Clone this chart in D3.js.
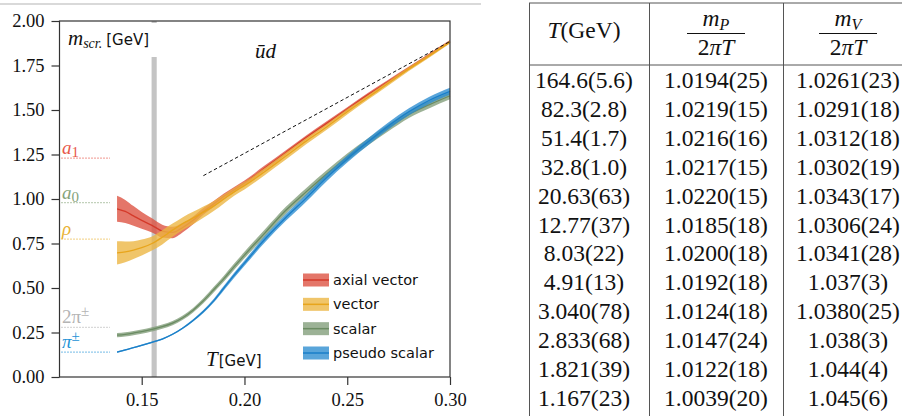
<!DOCTYPE html>
<html><head><meta charset="utf-8">
<script src="https://cdn.jsdelivr.net/npm/d3@7"></script>
<style>
html,body{margin:0;padding:0;background:#fff;}
svg{display:block;}
</style></head>
<body>
<svg id="c" width="902" height="416"></svg>
<script>
// ---------- data ----------
const temps =     [0.138,0.142,0.146,0.150,0.155,0.160,0.165,0.170,0.175,0.180,0.185,0.190,0.195,0.200,0.210,0.220,0.230,0.240,0.250,0.260,0.270,0.280,0.290,0.300];
const axialMid =  [0.945,0.930,0.905,0.880,0.852,0.820,0.812,0.840,0.880,0.930,0.972,1.015,1.052,1.090,1.175,1.260,1.345,1.425,1.505,1.585,1.660,1.735,1.810,1.885];
const axialErr =  [0.073,0.065,0.055,0.047,0.040,0.036,0.032,0.027,0.022,0.019,0.017,0.016,0.015,0.014,0.014,0.013,0.012,0.012,0.011,0.010,0.010,0.009,0.009,0.008];
const vectorMid = [0.697,0.703,0.713,0.727,0.750,0.785,0.825,0.862,0.893,0.926,0.960,1.000,1.040,1.075,1.155,1.240,1.325,1.405,1.490,1.570,1.650,1.730,1.805,1.882];
const vectorErr = [0.065,0.058,0.050,0.045,0.040,0.040,0.037,0.036,0.035,0.032,0.028,0.025,0.022,0.022,0.020,0.020,0.018,0.016,0.015,0.013,0.012,0.011,0.010,0.009];
const scalarMid = [0.235,0.240,0.247,0.255,0.268,0.283,0.303,0.333,0.375,0.428,0.490,0.553,0.620,0.685,0.810,0.935,1.040,1.140,1.235,1.320,1.400,1.475,1.530,1.580];
const scalarErr = [0.012,0.012,0.012,0.012,0.012,0.012,0.012,0.012,0.013,0.014,0.015,0.016,0.017,0.018,0.020,0.020,0.021,0.021,0.021,0.020,0.020,0.020,0.020,0.020];
const pseudoMid = [0.140,0.152,0.165,0.178,0.195,0.213,0.240,0.275,0.318,0.368,0.428,0.500,0.572,0.640,0.775,0.895,1.005,1.120,1.225,1.320,1.410,1.490,1.555,1.605];
const pseudoErr = [0.004,0.004,0.004,0.004,0.004,0.004,0.004,0.005,0.006,0.008,0.010,0.012,0.014,0.015,0.018,0.019,0.020,0.020,0.020,0.020,0.020,0.020,0.020,0.020];

const seriesNames = ["axial vector","vector","scalar","pseudo scalar"];
const xTicks = [0.15,0.20,0.25,0.30];
const yTicks = [0,0.25,0.5,0.75,1.0,1.25,1.5,1.75,2.0];
const tcBand = [0.1548,0.1573];
const dashT = [0.18,0.30];
const refNames = ["a1","a0","rho","2pi","pi"];
const refMass = [1.230,0.980,0.775,0.279,0.1396];

const tableTemp = ["164.6(5.6)","82.3(2.8)","51.4(1.7)","32.8(1.0)","20.63(63)","12.77(37)","8.03(22)","4.91(13)","3.040(78)","2.833(68)","1.821(39)","1.167(23)"];
const tableMP = ["1.0194(25)","1.0219(15)","1.0216(16)","1.0217(15)","1.0220(15)","1.0185(18)","1.0200(18)","1.0192(18)","1.0124(18)","1.0147(24)","1.0122(18)","1.0039(20)"];
const tableMV = ["1.0261(23)","1.0291(18)","1.0312(18)","1.0302(19)","1.0343(17)","1.0306(24)","1.0341(28)","1.037(3)","1.0380(25)","1.038(3)","1.044(4)","1.045(6)"];

// ---------- setup ----------
const svg = d3.select("#c");
const SERIF = "'Liberation Serif', 'DejaVu Serif', serif";
const SANS = "'DejaVu Sans', sans-serif";

const x = d3.scaleLinear().domain([0.11,0.30]).range([59.5,450]);
const y = d3.scaleLinear().domain([0,2]).range([377,21]);

const styles = [
  {band:"#dd4f3f", line:"#d43a2a"},
  {band:"#ecb540", line:"#e8a51c"},
  {band:"#809c78", line:"#6a8b62"},
  {band:"#2a8cd0", line:"#1a7fc8"}
];
const mids = [axialMid, vectorMid, scalarMid, pseudoMid];
const errs = [axialErr, vectorErr, scalarErr, pseudoErr];

// top light rule
svg.append("line").attr("x1",0).attr("x2",481).attr("y1",4).attr("y2",4)
  .attr("stroke","#cccccc").attr("stroke-width",1.5);

// gray Tc band
svg.append("rect").attr("x",x(tcBand[0])).attr("width",x(tcBand[1])-x(tcBand[0]))
  .attr("y",y(2)).attr("height",y(0)-y(2)).attr("fill","#c4c4c4");

// reference lines
const refColors = ["#e8574a","#86a37a","#e9b236","#b4b4b4","#2393d6"];
refMass.forEach((m,i)=>{
  svg.append("line").attr("x1",x(0.11)+2).attr("x2",110).attr("y1",y(m)).attr("y2",y(m))
    .attr("stroke",refColors[i]).attr("stroke-width",1.2).attr("stroke-dasharray","1,2");
});

// bands and lines
const area = (mid,err)=>d3.area().x((d,i)=>x(temps[i])).y0((d,i)=>y(mid[i]-err[i])).y1((d,i)=>y(mid[i]+err[i])).curve(d3.curveMonotoneX);
const line = (mid)=>d3.line().x((d,i)=>x(temps[i])).y((d,i)=>y(mid[i])).curve(d3.curveMonotoneX);
const g = svg.append("g");
mids.forEach((mid,k)=>{
  g.append("path").attr("d",area(mid,errs[k])(temps)).attr("fill",styles[k].band).attr("fill-opacity",0.78);
  g.append("path").attr("d",line(mid)(temps)).attr("fill","none").attr("stroke",styles[k].line).attr("stroke-width",1.3);
});

// dashed 2 pi T line
svg.append("line").attr("x1",x(dashT[0])).attr("y1",y(2*Math.PI*dashT[0]))
  .attr("x2",x(dashT[1])).attr("y2",y(2*Math.PI*dashT[1]))
  .attr("stroke","#111").attr("stroke-width",1).attr("stroke-dasharray","3.5,2.5");

// label box
svg.append("rect").attr("x",64).attr("y",23).attr("width",100).attr("height",34).attr("fill","#fff");
const lab = svg.append("text").attr("x",68).attr("y",45).attr("fill","#111");
lab.append("tspan").attr("font-family",SERIF).attr("font-style","italic").attr("font-size",21).text("m");
lab.append("tspan").attr("font-family",SERIF).attr("font-style","italic").attr("font-size",14).attr("dy",3).text("scr.");
lab.append("tspan").attr("font-family",SANS).attr("font-size",15).attr("dy",-3).attr("dx",4).text("[GeV]");

svg.append("text").attr("x",255).attr("y",58).attr("font-family",SERIF).attr("font-style","italic")
  .attr("font-size",21).attr("fill","#111").text("ūd");

const tl = svg.append("text").attr("x",206).attr("y",366).attr("fill","#111");
tl.append("tspan").attr("font-family",SERIF).attr("font-style","italic").attr("font-size",21).text("T");
tl.append("tspan").attr("font-family",SANS).attr("font-size",15).attr("dx",1).text("[GeV]");

// reference labels
function refLabel(i, parts){
  const t = svg.append("text").attr("x",62).attr("y",y(refMass[i])-4).attr("fill",refColors[i]).attr("font-family",SERIF);
  parts.forEach(p=>{
    const s = t.append("tspan").attr("font-size",p.size).text(p.t);
    if(p.it) s.attr("font-style","italic");
    if(p.dy) s.attr("dy",p.dy);
  });
}
refLabel(0,[{t:"a",it:1,size:19},{t:"1",size:15,dy:3}]);
refLabel(1,[{t:"a",it:1,size:19},{t:"0",size:15,dy:3}]);
refLabel(2,[{t:"ρ",it:1,size:19}]);
refLabel(3,[{t:"2π",size:19},{t:"±",size:15,dy:-7}]);
refLabel(4,[{t:"π",it:1,size:19},{t:"±",size:15,dy:-7}]);

// axes
const axL = svg.append("g").attr("transform",`translate(${x(0.11)},0)`)
  .call(d3.axisLeft(y).tickValues(yTicks).tickFormat(d3.format(".2f")).tickSize(8).tickPadding(7).tickSizeOuter(0));
const axB = svg.append("g").attr("transform",`translate(0,${y(0)})`)
  .call(d3.axisBottom(x).tickValues(xTicks).tickFormat(d3.format(".2f")).tickSize(8).tickPadding(8).tickSizeOuter(0));
[axL,axB].forEach(a=>{
  a.selectAll("text").attr("font-family",SERIF).attr("font-size",18.5).attr("fill","#111");
  a.selectAll("line").attr("stroke","#333").attr("stroke-width",1.2);
  a.select(".domain").remove();
});
svg.append("rect").attr("x",x(0.11)).attr("y",y(2)).attr("width",x(0.30)-x(0.11)).attr("height",y(0)-y(2))
  .attr("fill","none").attr("stroke","#333").attr("stroke-width",1.2);

// legend
const lg = svg.append("g");
const legY = d3.scalePoint().domain(seriesNames).range([280,353]);
seriesNames.forEach((n,k)=>{
  const yy = legY(n);
  lg.append("rect").attr("x",303).attr("y",yy-6.5).attr("width",26).attr("height",13)
    .attr("fill",styles[k].band).attr("fill-opacity",0.78);
  lg.append("line").attr("x1",303).attr("x2",329).attr("y1",yy).attr("y2",yy)
    .attr("stroke",styles[k].line).attr("stroke-width",1.5);
  lg.append("text").attr("x",333).attr("y",yy+5).attr("font-family",SANS).attr("font-size",14.5)
    .attr("fill","#111").text(n);
});

// ---------- table ----------
const tb = svg.append("g");
const colX = [584,716,848];
const lineC = "#555";
tb.append("line").attr("x1",529.5).attr("x2",529.5).attr("y1",3).attr("y2",416).attr("stroke",lineC).attr("stroke-width",1);
tb.append("line").attr("x1",649.5).attr("x2",649.5).attr("y1",3).attr("y2",416).attr("stroke",lineC).attr("stroke-width",1);
tb.append("line").attr("x1",783.5).attr("x2",783.5).attr("y1",3).attr("y2",416).attr("stroke",lineC).attr("stroke-width",1);
tb.append("line").attr("x1",529).attr("x2",902).attr("y1",3).attr("y2",3).attr("stroke",lineC).attr("stroke-width",1);
tb.append("line").attr("x1",529).attr("x2",902).attr("y1",65).attr("y2",65).attr("stroke",lineC).attr("stroke-width",1);

const h1 = tb.append("text").attr("x",colX[0]).attr("y",38).attr("text-anchor","middle")
  .attr("font-family",SERIF).attr("font-size",23.5).attr("fill","#111");
h1.append("tspan").attr("font-style","italic").text("T");
h1.append("tspan").text("(GeV)");

function frac(cx, sub){
  const n = tb.append("text").attr("x",cx).attr("y",26).attr("text-anchor","middle")
    .attr("font-family",SERIF).attr("font-size",23.5).attr("fill","#111");
  n.append("tspan").attr("font-style","italic").text("m");
  n.append("tspan").attr("font-style","italic").attr("font-size",16).attr("dy",4).text(sub);
  tb.append("line").attr("x1",cx-29).attr("x2",cx+29).attr("y1",33.5).attr("y2",33.5).attr("stroke","#111").attr("stroke-width",1);
  const d = tb.append("text").attr("x",cx).attr("y",55).attr("text-anchor","middle")
    .attr("font-family",SERIF).attr("font-size",23.5).attr("fill","#111");
  d.append("tspan").text("2");
  d.append("tspan").attr("font-style","italic").text("πT");
}
frac(colX[1],"P");
frac(colX[2],"V");

const rowY = d3.scalePoint().domain(d3.range(tableTemp.length)).range([80,398]);
[tableTemp,tableMP,tableMV].forEach((col,ci)=>{
  col.forEach((s,ri)=>{
    tb.append("text").attr("x",colX[ci]).attr("y",rowY(ri)+8).attr("text-anchor","middle")
      .attr("font-family",SERIF).attr("font-size",23.5).attr("fill","#111").text(s);
  });
});
</script>
</body></html>
